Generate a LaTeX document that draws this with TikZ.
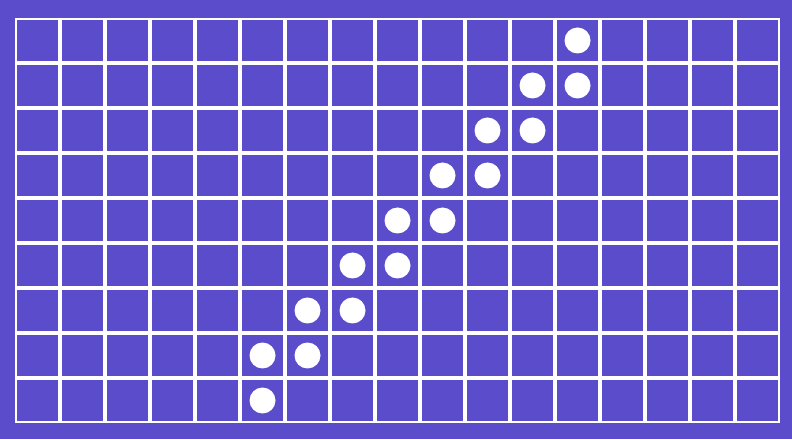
\documentclass[tikz,border=0pt]{standalone}
\definecolor{bgpurple}{RGB}{90,76,203}
\begin{document}
\begin{tikzpicture}[x=1pt,y=1pt,
  cellline/.style={draw=white,line width=1.6pt},
  stone/.style={circle,fill=white,draw=none,minimum size=26pt,inner sep=0pt}]
\fill[bgpurple] (0,0) rectangle (792,439);
\useasboundingbox (0,0) rectangle (792,439);
% cells
\foreach \c in {0,...,16}{
  \foreach \r in {0,...,8}{
    \draw[cellline] ({15+45*\c+0.8},{439-18-45*\r-0.8}) rectangle ({15+45*(\c+1)-0.8},{439-18-45*(\r+1)+0.8});
  }
}
% stones (row, column)
\foreach \r/\c [count=\i] in {0/12,1/11,1/12,2/10,2/11,3/9,3/10,4/8,4/9,5/7,5/8,6/6,6/7,7/5,7/6,8/5}{
  \node[stone] (s\i) at ({15+45*\c+22.5},{439-18-45*\r-22.5}) {};
}
\end{tikzpicture}
\end{document}
